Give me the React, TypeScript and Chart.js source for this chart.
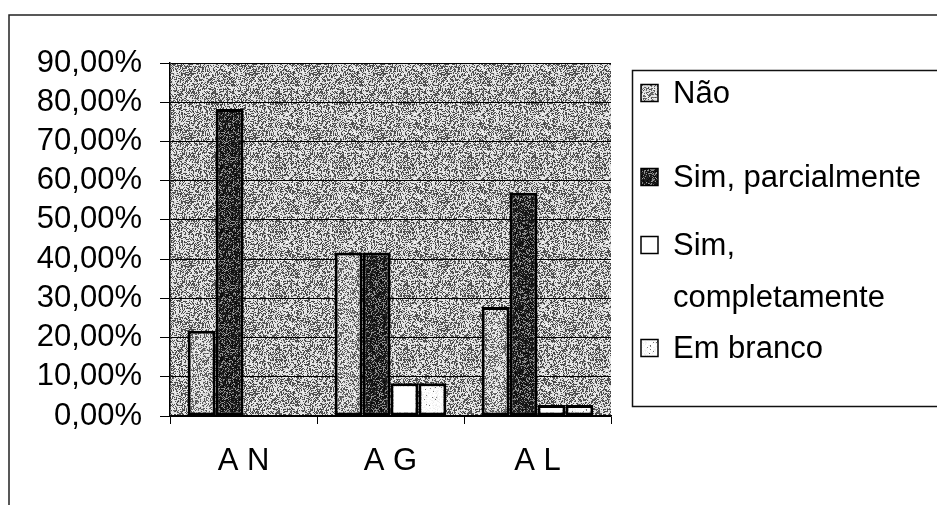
import React, { useEffect, useRef } from "react";
import { Chart, registerables } from "chart.js";

Chart.register(...registerables);

const categories = ["A N", "A G", "A L"];
const seriesLabels = ["Não", "Sim, parcialmente", "Sim, completamente", "Em branco"];
const naoValues = [21.74, 41.67, 27.78];
const simParcialValues = [78.26, 41.67, 56.94];
const simCompletoValues = [0, 8.33, 2.78];
const emBrancoValues = [0, 8.33, 2.78];
const yMin = 0;
const yMax = 90;
const yStep = 10;

const FONT = "'Liberation Sans', Arial, sans-serif";
const FONT_SIZE = 31;

function hash(x: number, y: number, seed: number) {
  let h = (x * 374761393 + y * 668265263 + seed * 982451653) | 0;
  h = (h ^ (h >>> 13)) * 1274126177;
  h = h ^ (h >>> 16);
  return ((h >>> 0) % 10000) / 10000;
}

function makePattern(
  darkProb: number,
  dark: number,
  light: number,
  seed: number,
  size = 64
): CanvasPattern | string {
  const c = document.createElement("canvas");
  c.width = size;
  c.height = size;
  const ctx = c.getContext("2d");
  if (!ctx) return "#bbb";
  const img = ctx.createImageData(size, size);
  for (let y = 0; y < size; y++) {
    for (let x = 0; x < size; x++) {
      const h = hash(x, y, seed);
      const h2 = hash(y, x, seed + 7);
      let v = h < darkProb ? dark : light;
      v += (h2 - 0.5) * 40;
      v = Math.max(0, Math.min(255, v));
      const i = (y * size + x) * 4;
      img.data[i] = v;
      img.data[i + 1] = v;
      img.data[i + 2] = v;
      img.data[i + 3] = 255;
    }
  }
  ctx.putImageData(img, 0, 0);
  return ctx.createPattern(c, "repeat") || "#bbb";
}

export default function App() {
  const ref = useRef<HTMLCanvasElement | null>(null);

  useEffect(() => {
    if (!ref.current) return;
    const plotBg = makePattern(0.4, 80, 225, 1);
    const naoFill = makePattern(0.42, 95, 225, 2);
    const parcFill = makePattern(0.74, 25, 140, 3);
    const complFill = "#ffffff";
    const brancoFill = makePattern(0.025, 120, 255, 4);
    const fills = [naoFill, parcFill, complFill, brancoFill];
    const values = [naoValues, simParcialValues, simCompletoValues, emBrancoValues];

    const bgPlugin = {
      id: "bgPlugin",
      beforeDraw(chart: any) {
        const { ctx, chartArea } = chart;
        ctx.save();
        ctx.fillStyle = "#ffffff";
        ctx.fillRect(0, 0, chart.width, chart.height);
        ctx.fillStyle = plotBg;
        ctx.fillRect(
          chartArea.left,
          chartArea.top,
          chartArea.right - chartArea.left,
          chartArea.bottom - chartArea.top
        );
        ctx.restore();
      },
      afterDraw(chart: any) {
        const { ctx } = chart;
        ctx.save();
        // outer frame
        ctx.strokeStyle = "#222";
        ctx.lineWidth = 1.5;
        ctx.beginPath();
        ctx.moveTo(9, chart.height);
        ctx.lineTo(9, 15);
        ctx.lineTo(chart.width, 15);
        ctx.stroke();
        // legend box
        ctx.lineWidth = 1.5;
        ctx.strokeStyle = "#111";
        ctx.strokeRect(632.5, 70.5, 340, 336);
        // legend items
        const rowTops = [93, 177, 245, 348];
        const lineH = 52;
        ctx.font = `${FONT_SIZE}px ${FONT}`;
        ctx.textBaseline = "middle";
        ctx.textAlign = "left";
        chart.data.datasets.forEach((ds: any, i: number) => {
          const yc = rowTops[i];
          ctx.fillStyle = ds.backgroundColor;
          ctx.fillRect(641, yc - 8.5, 17, 17);
          ctx.strokeStyle = "#000";
          ctx.lineWidth = 1.5;
          ctx.strokeRect(641, yc - 8.5, 17, 17);
          const words = String(ds.label).split(" ");
          const lines: string[] = [];
          let cur = "";
          words.forEach((w) => {
            const test = cur ? cur + " " + w : w;
            if (ctx.measureText(test).width > 262 && cur) {
              lines.push(cur);
              cur = w;
            } else cur = test;
          });
          if (cur) lines.push(cur);
          ctx.fillStyle = "#000";
          lines.forEach((ln, k) => ctx.fillText(ln, 673, yc + 1 + k * lineH));
        });
        ctx.restore();
      },
    };

    const chart = new Chart(ref.current, {
      type: "bar",
      data: {
        labels: categories,
        datasets: seriesLabels.map((label, i) => ({
          label,
          data: values[i],
          backgroundColor: fills[i] as any,
          borderColor: "#000",
          borderWidth: 3,
          borderSkipped: false,
          categoryPercentage: 0.76,
          barPercentage: 1.0,
        })),
      },
      options: {
        animation: false,
        responsive: true,
        maintainAspectRatio: false,
        layout: { padding: { left: 0, top: 63, right: 326, bottom: 0 } },
        plugins: {
          legend: { display: false },
          tooltip: { enabled: false },
          title: { display: false },
        },
        scales: {
          x: {
            afterFit: (s: any) => {
              s.height = 89;
            },
            grid: {
              offset: true,
              drawOnChartArea: false,
              drawTicks: true,
              tickLength: 8,
              color: "#000",
              lineWidth: 1,
            },
            border: { display: true, color: "#000", width: 1.5 },
            ticks: {
              color: "#000",
              font: { family: FONT, size: FONT_SIZE },
              padding: 19,
              autoSkip: false,
              maxRotation: 0,
            },
          },
          y: {
            min: yMin,
            max: yMax,
            afterFit: (s: any) => {
              s.width = 170;
            },
            grid: {
              color: "#000",
              lineWidth: 1,
              drawTicks: true,
              tickLength: 10,
            },
            border: { display: true, color: "#000", width: 1.5 },
            ticks: {
              stepSize: yStep,
              autoSkip: false,
              color: "#000",
              font: { family: FONT, size: FONT_SIZE },
              padding: 18,
              callback: (v: any) => Number(v).toFixed(2).replace(".", ",") + "%",
            },
          },
        },
      },
      plugins: [bgPlugin],
    });
    return () => chart.destroy();
  }, []);

  return (
    <div
      style={{
        position: "fixed",
        left: 0,
        top: 0,
        width: 937,
        height: 505,
        background: "#fff",
      }}
    >
      <canvas ref={ref} />
    </div>
  );
}
